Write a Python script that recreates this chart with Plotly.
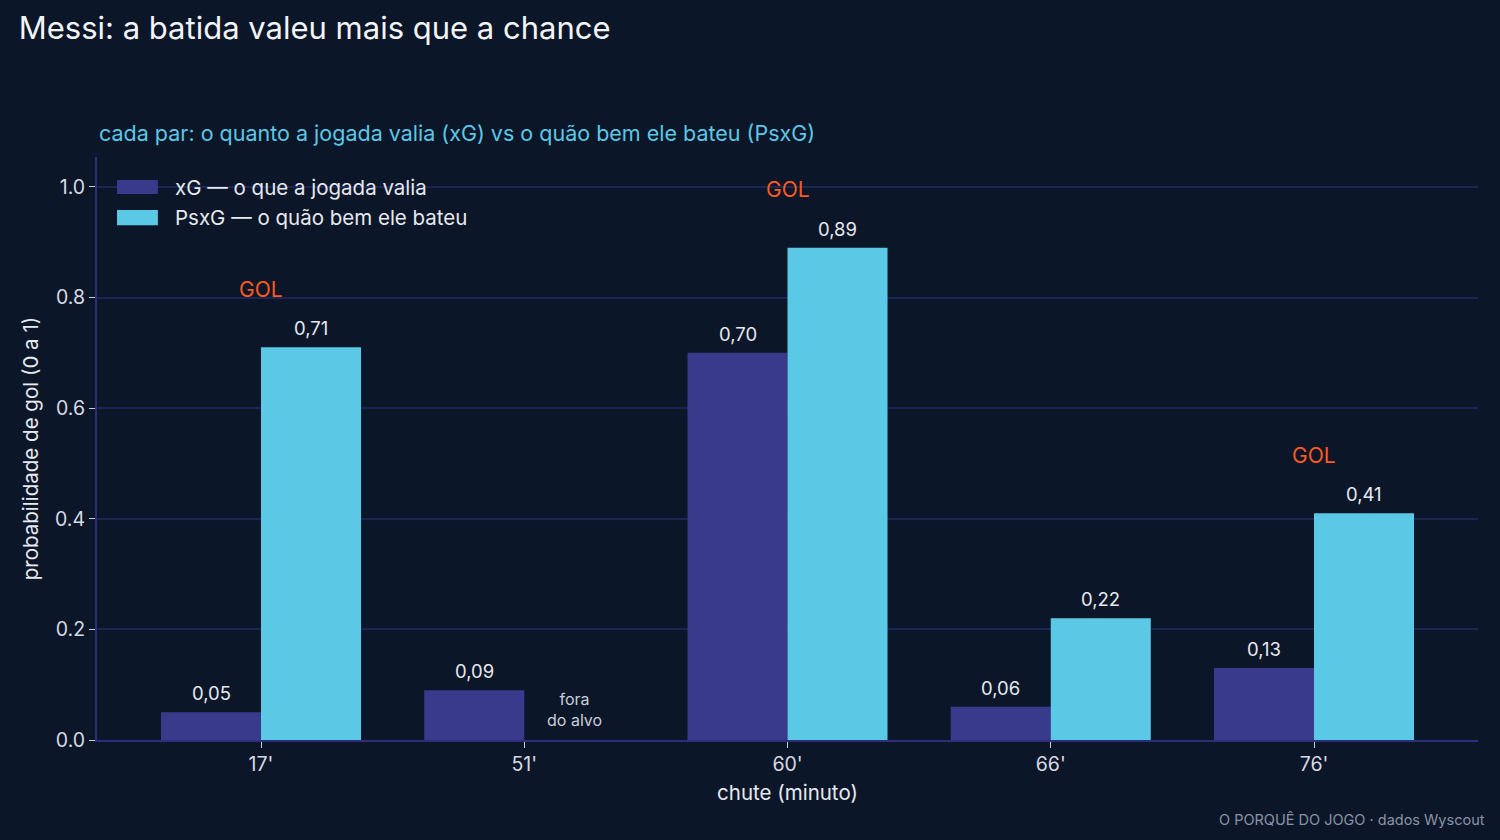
import plotly.graph_objects as go

minutes = ["17'", "51'", "60'", "66'", "76'"]
xg = [0.05, 0.09, 0.70, 0.06, 0.13]
psxg = [0.71, None, 0.89, 0.22, 0.41]
goals = [True, False, True, False, True]
series_names = ["xG — o que a jogada valia", "PsxG — o quão bem ele bateu"]

BG = "#0b1628"
XG_C = "#3a3a8c"
PS_C = "#5bc8e6"
TXT = "#e6e9ef"
FONT = "Inter"

def fmt(v):
    return f"{v:.2f}".replace(".", ",")

fig = go.Figure()
fig.add_trace(go.Bar(x=minutes, y=xg, name=series_names[0], showlegend=False,
                     marker=dict(color=XG_C, line=dict(width=0))))
fig.add_trace(go.Bar(x=minutes, y=[v if v is not None else 0 for v in psxg],
                     name=series_names[1], showlegend=False,
                     marker=dict(color=PS_C, line=dict(width=0))))

ann = []
for i, m in enumerate(minutes):
    ann.append(dict(x=m, y=xg[i], xshift=-50, yshift=6, yanchor="bottom",
                    text=fmt(xg[i]), showarrow=False,
                    font=dict(size=18.5, color=TXT, family=FONT)))
    if psxg[i] is not None:
        ann.append(dict(x=m, y=psxg[i], xshift=50, yshift=6, yanchor="bottom",
                        text=fmt(psxg[i]), showarrow=False,
                        font=dict(size=18.5, color=TXT, family=FONT)))
    else:
        ann.append(dict(x=m, y=0, xshift=50, yshift=8, yanchor="bottom",
                        text="fora<br>do alvo", showarrow=False,
                        font=dict(size=16, color="#c9ceda", family=FONT)))
    if goals[i]:
        ann.append(dict(x=m, y=psxg[i] + 0.105, yanchor="middle",
                        text="GOL", showarrow=False,
                        font=dict(size=21, color="#ff5a1f", family=FONT)))

ann.append(dict(xref="paper", yref="paper", x=0, y=1.0, yshift=9,
                xanchor="left", yanchor="bottom",
                text="cada par: o quanto a jogada valia (xG) vs o quão bem ele bateu (PsxG)",
                showarrow=False, font=dict(size=21.5, color=PS_C, family=FONT)))
ann.append(dict(xref="paper", yref="paper", x=1.0065, y=0, yshift=-90,
                xanchor="right", yanchor="bottom",
                text="O PORQUÊ DO JOGO · dados Wyscout",
                showarrow=False, font=dict(size=14.5, color="#8a93a6", family=FONT)))

# custom legend (wide swatches)
shapes = []
leg_colors = [XG_C, PS_C]
leg_y = [(0.9605, 0.9365), (0.909, 0.883)]
for k in range(2):
    y0, y1 = leg_y[k]
    shapes.append(dict(type="rect", xref="paper", yref="paper",
                       x0=0.0145, x1=0.0441, y0=y1, y1=y0,
                       fillcolor=leg_colors[k], line=dict(width=0), layer="above"))
    ann.append(dict(xref="paper", yref="paper", x=0.0552, y=(y0 + y1) / 2,
                    xanchor="left", yanchor="middle", text=series_names[k],
                    showarrow=False, font=dict(size=20.5, color=TXT, family=FONT)))

fig.update_layout(
    width=1500, height=840,
    paper_bgcolor=BG, plot_bgcolor=BG,
    margin=dict(l=97, r=22, t=157, b=100),
    barmode="group", bargap=0.24, bargroupgap=0,
    font=dict(family=FONT, color=TXT, size=17),
    title=dict(text="Messi: a batida valeu mais que a chance", x=0.0125, xanchor="left",
               y=0.966, yanchor="middle", font=dict(size=31, color="#f2f4f8", family=FONT)),
    showlegend=False,
    annotations=ann,
    shapes=shapes,
    xaxis=dict(range=[-0.623, 4.623], showgrid=False, showline=True, linecolor="#2e2f7a",
               linewidth=2, ticks="outside", ticklen=6, tickcolor="#c9ceda",
               tickfont=dict(size=19.5, color="#d6dae3"),
               title=dict(text="chute (minuto)", font=dict(size=20.5, color=TXT), standoff=10)),
    yaxis=dict(range=[0, 1.054], tickvals=[0, 0.2, 0.4, 0.6, 0.8, 1.0],
               ticktext=["0.0", "0.2", "0.4", "0.6", "0.8", "1.0"],
               showgrid=True, gridcolor="#1c2654", gridwidth=1.5, zeroline=False,
               showline=True, linecolor="#2e2f7a", linewidth=2,
               ticks="outside", ticklen=6, tickcolor="#c9ceda",
               tickfont=dict(size=19.5, color="#d6dae3"),
               title=dict(text="probabilidade de gol (0 a 1)", font=dict(size=20.5, color=TXT), standoff=11)),
)

fig.write_html("out.html")
